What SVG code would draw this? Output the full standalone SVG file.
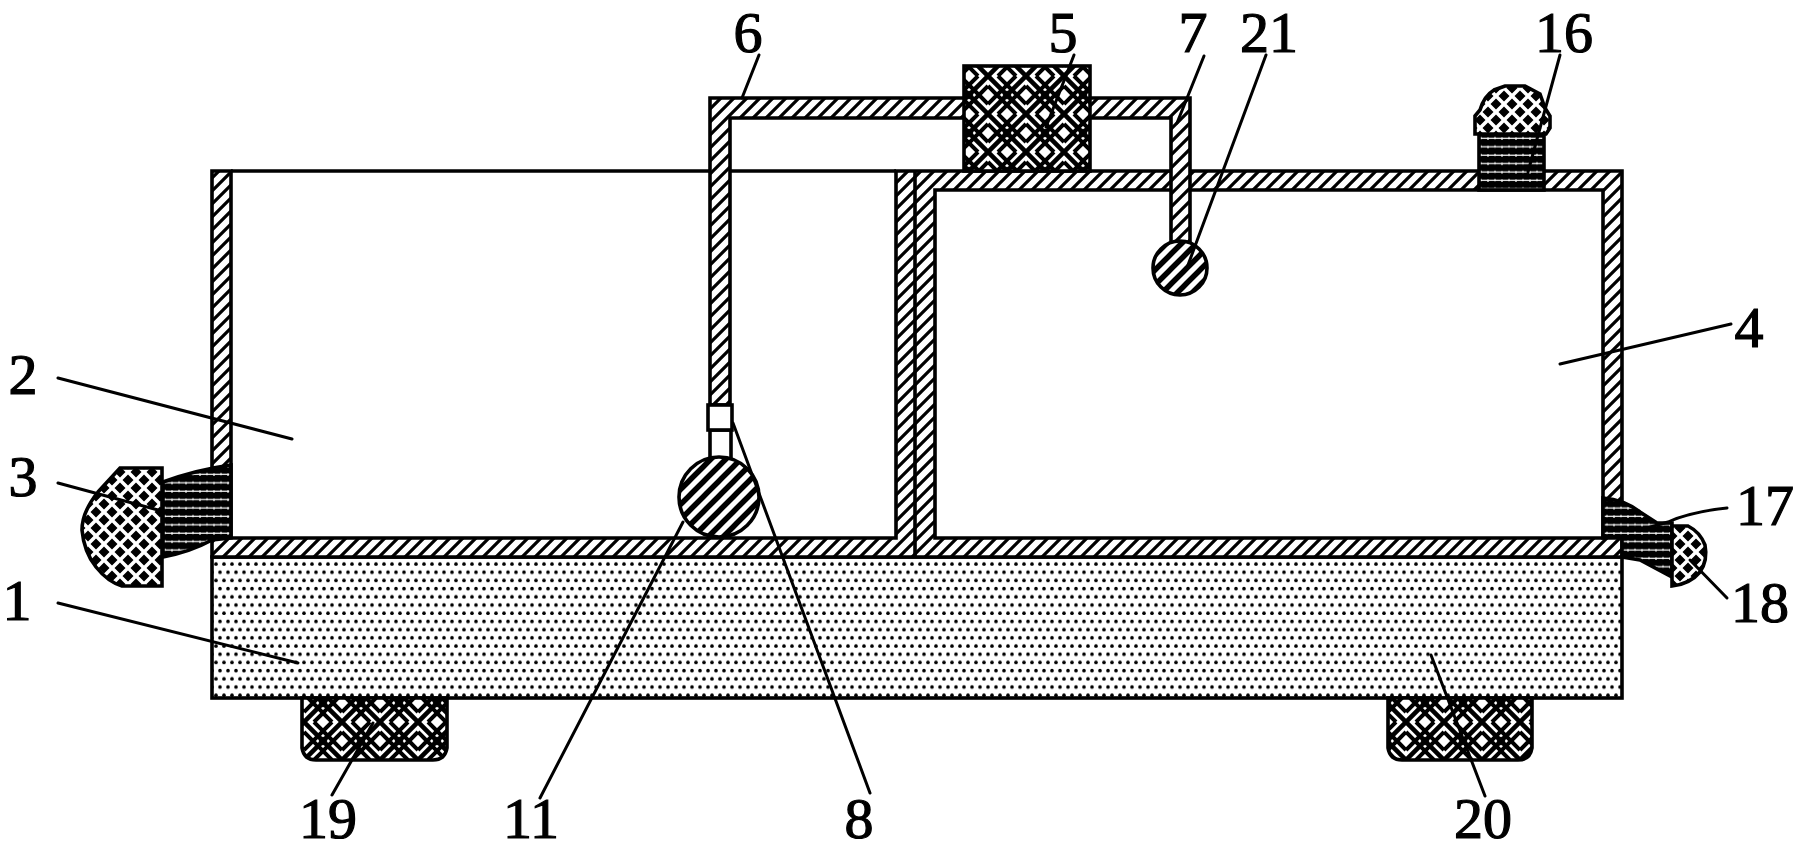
<svg xmlns="http://www.w3.org/2000/svg" width="1800" height="851" viewBox="0 0 1800 851">
<style>
.o{stroke:#000;stroke-width:3.6;stroke-linejoin:miter}
.h{fill:url(#hatch)}
.ln{fill:none;stroke:#000;stroke-width:3;stroke-linecap:round}
.w{fill:#fff}
text{font-family:"Liberation Serif","Times New Roman",serif;font-size:58px;fill:#000;stroke:#000;stroke-width:1.2;text-anchor:middle}
</style>
<defs>
<pattern id="hatch" width="13" height="13" patternUnits="userSpaceOnUse">
<rect width="13" height="13" fill="#fff"/>
<path d="M-3 16L16-3M-3 3L3-3M10 16L16 10" stroke="#000" stroke-width="3.2"/>
</pattern>
<pattern id="ballhatch" width="15" height="15" patternUnits="userSpaceOnUse">
<rect width="15" height="15" fill="#fff"/>
<path d="M-3 18L18-3M-3 3L3-3M12 18L18 12" stroke="#000" stroke-width="5.500"/>
</pattern>
<pattern id="dots" x="212" y="560" width="16" height="16.4" patternUnits="userSpaceOnUse">
<rect width="16" height="16.4" fill="#fff"/>
<circle cx="4" cy="4" r="1.8"/><circle cx="12" cy="4" r="1.8"/>
<circle cx="0" cy="12.2" r="1.8"/><circle cx="8" cy="12.2" r="1.8"/><circle cx="16" cy="12.2" r="1.8"/>
</pattern>
<pattern id="weave" width="38" height="38" patternUnits="userSpaceOnUse">
<rect width="38" height="38" fill="#fff"/>
<path d="M0 0L38 38M38 0L0 38" stroke="#000" stroke-width="4.600"/>
<path d="M19 9L29 19L19 29L9 19Z" fill="none" stroke="#000" stroke-width="4"/>
<path d="M19 14.500L23.500 19L19 23.500L14.500 19Z"/>
<path d="M0 10L9 19L0 28M38 10L29 19L38 28M10 0L19 9L28 0M10 38L19 29L28 38" fill="none" stroke="#000" stroke-width="4"/>
</pattern>
<pattern id="cap" width="16" height="16" patternUnits="userSpaceOnUse">
<rect width="16" height="16" fill="#fff"/>
<path d="M0-5.500L5.500 0L0 5.500L-5.500 0ZM16-5.500L21.500 0L16 5.500L10.500 0ZM0 10.500L5.500 16L0 21.500L-5.500 16ZM16 10.500L21.500 16L16 21.500L10.500 16ZM8 2.500L13.500 8L8 13.500L2.500 8Z"/>
</pattern>
<pattern id="neck" width="14" height="8.400" patternUnits="userSpaceOnUse">
<rect width="14" height="8.400" fill="#000"/>
<path d="M0 4H14" stroke="#fff" stroke-width="1.200"/>
<path d="M4 3V5.500M11 2.500V5" stroke="#fff" stroke-width="1.200"/>
</pattern>
</defs>
<rect width="1800" height="851" fill="#fff"/>
<g id="base-1"><rect class="o" x="212" y="557" width="1410" height="141" fill="url(#dots)"/></g>
<g id="foot-19"><path class="o" fill="url(#weave)" d="M302 698V748Q304 760 316 760H433Q445 760 447 748V698Z"/></g>
<g id="foot-20"><path class="o" fill="url(#weave)" d="M1388 698V748Q1390 760 1402 760H1518Q1530 760 1532 748V698Z"/></g>
<g id="housing-2-4">
<path class="o h" fill-rule="evenodd" d="M212 171V557H1622V171H896V538H231V171ZM935 190H1603V538H935Z"/>
<path class="o" fill="none" d="M231 171H896M915 171V557"/>
</g>
<g id="sensor-3">
<path class="o" fill="url(#neck)" d="M231 465Q195 470 163 482V557Q190 552 212 540L231 538Z"/>
<path class="o" fill="url(#cap)" d="M162 468H120L98 492Q82 512 82 530Q84 552 96 567Q108 582 122 586H162Z"/>
</g>
<g id="sensor-16">
<rect class="o" x="1479" y="133" width="65" height="57" fill="url(#neck)"/>
<path class="o" fill="url(#cap)" d="M1475 134V116L1480 110Q1484 96 1494 90L1505 86H1525L1540 94L1545 108L1550 116V128L1546 134Z"/>
</g>
<g id="sensor-17-18">
<path class="o" fill="url(#neck)" d="M1603 498Q1625 500 1640 512L1657 523H1672V577L1640 560L1622 557V538H1603Z"/>
<path class="o" fill="url(#cap)" d="M1672 526H1688Q1700 532 1705 545Q1708 560 1700 572Q1690 584 1672 586Z"/>
</g>
<g id="pipe-6-7">
<path class="o h" d="M710 405V98H1190V245H1171V118H730V405Z"/>
</g>
<g id="pump-5"><rect class="o" x="964" y="66" width="126" height="105" fill="url(#weave)"/></g>
<g id="nozzle-21"><circle class="o" cx="1180" cy="268" r="27" fill="url(#ballhatch)"/></g>
<g id="valve-8">
<rect class="o w" x="710" y="430" width="21" height="30"/>
<rect class="o w" x="708" y="405" width="24" height="25"/>
</g>
<g id="ball-11"><circle class="o" cx="719" cy="497" r="40" fill="url(#ballhatch)"/></g>
<g id="connectors">
<path class="ln" d="M58 378L292 439"/>
<path class="ln" d="M58 483L158 510"/>
<path class="ln" d="M58 603L298 663"/>
<path class="ln" d="M332 795L373 723"/>
<path class="ln" d="M759 55L742 98"/>
<path class="ln" d="M1074 55L1046 127"/>
<path class="ln" d="M1204 56L1177 123"/>
<path class="ln" d="M1266 55L1188 265"/>
<path class="ln" d="M1560 55L1528 172"/>
<path class="ln" d="M1731 324L1560 364"/>
<path class="ln" d="M1727 508Q1690 512 1668 522L1640 530"/>
<path class="ln" d="M1727 598L1690 560"/>
<path class="ln" d="M540 798L683 522"/>
<path class="ln" d="M733 423L870 793"/>
<path class="ln" d="M1485 796L1431 655"/>
</g>
<g id="labels">
<text x="23" y="394">2</text>
<text x="23" y="496">3</text>
<text x="17" y="620">1</text>
<text x="328" y="838">19</text>
<text x="531" y="838">11</text>
<text x="859" y="838">8</text>
<text x="1483" y="838">20</text>
<text x="748" y="52">6</text>
<text x="1063" y="52">5</text>
<text x="1193" y="52">7</text>
<text x="1269" y="52">21</text>
<text x="1564" y="52">16</text>
<text x="1749" y="347">4</text>
<text x="1765" y="525">17</text>
<text x="1760" y="622">18</text>
</g>
</svg>
